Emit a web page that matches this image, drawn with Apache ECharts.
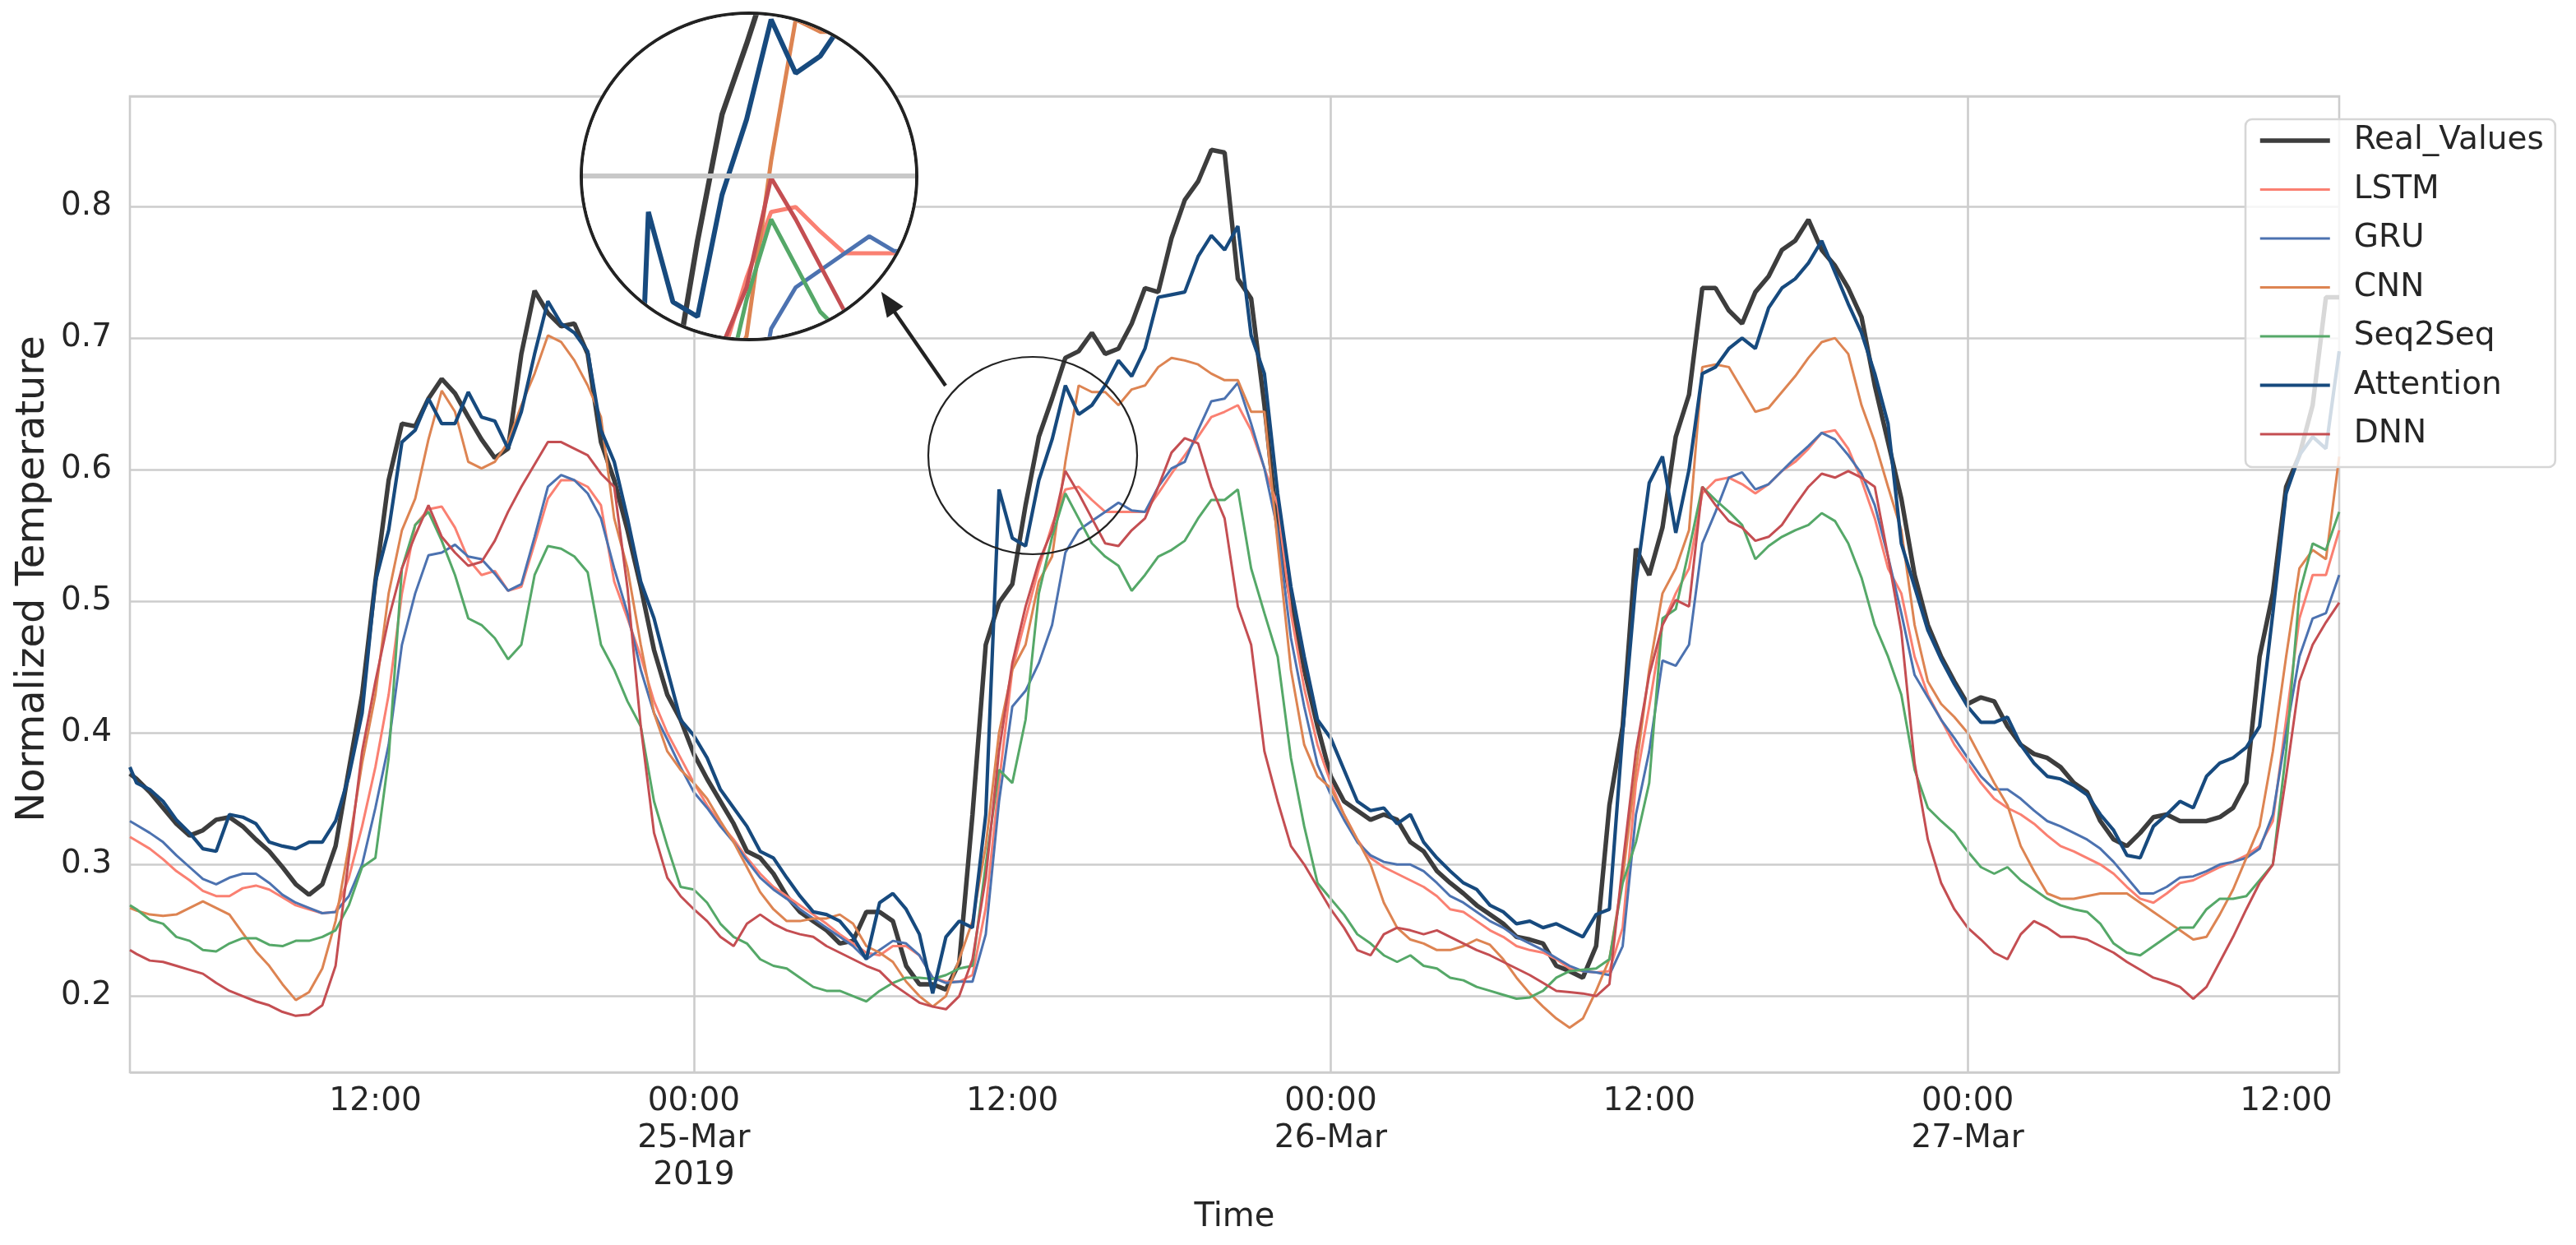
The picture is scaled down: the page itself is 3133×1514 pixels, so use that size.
<!DOCTYPE html>
<html>
<head>
<meta charset="utf-8">
<title>Normalized Temperature</title>
<script src="https://cdn.jsdelivr.net/npm/echarts@6/dist/echarts.min.js"></script>
<style>
html, body { margin: 0; padding: 0; background: #fff; }
#main { position: absolute; left: 0; top: 0; width: 3133px; height: 1514px; }
#zoom { position: absolute; left: 705px; top: 14px; width: 412px; height: 401px; box-sizing: border-box;
        border: 4px solid #222; border-radius: 50%; overflow: hidden; background: #fff; }
</style>
</head>
<body>
<div id="main"></div>
<div id="zoom"></div>
<script>
// hours relative to 25-Mar-2019 00:00, one reading every half hour
var hours = [-21.25];
for (var i = 0; i < 167; i++) { hours.push(-21 + i * 0.5); }

var tickHours = [-12, 0, 12, 24, 36, 48, 60];
var tickLabels = ['12:00', '00:00\n25-Mar\n2019', '12:00', '00:00\n26-Mar', '12:00', '00:00\n27-Mar', '12:00'];
var dayLines = [0, 24, 48];

var realValues = [0.369,
	0.365, 0.355, 0.343, 0.331, 0.322, 0.326, 0.334, 0.336, 0.329, 0.319, 0.310, 0.298, 0.285, 0.277, 0.285, 0.314, 0.372, 0.429, 0.515, 0.592, 0.635, 0.633, 0.654, 0.669, 0.658, 0.640, 0.623, 0.609, 0.616, 0.688, 0.736, 0.719, 0.709,
	0.711, 0.688, 0.621, 0.592, 0.554, 0.511, 0.463, 0.429, 0.410, 0.384, 0.365, 0.348, 0.331, 0.310, 0.305, 0.293, 0.276, 0.264, 0.257, 0.250, 0.240, 0.242, 0.264, 0.264, 0.257, 0.223, 0.209, 0.209, 0.205, 0.225, 0.338, 0.467, 0.499, 0.513,
	0.573, 0.625, 0.654, 0.685, 0.690, 0.704, 0.688, 0.692, 0.711, 0.738, 0.735, 0.776, 0.805, 0.819, 0.843, 0.841, 0.745, 0.730, 0.649, 0.554, 0.501, 0.448, 0.405, 0.367, 0.348, 0.341, 0.334, 0.338, 0.334, 0.317, 0.310, 0.295, 0.286,
	0.278, 0.269, 0.262, 0.255, 0.245, 0.243, 0.240, 0.223, 0.219, 0.214, 0.238, 0.345, 0.405, 0.540, 0.520, 0.556, 0.625, 0.657, 0.738, 0.738, 0.721, 0.711, 0.735, 0.747, 0.767, 0.774, 0.790, 0.767, 0.755, 0.738, 0.716, 0.664, 0.621,
	0.578, 0.520, 0.482, 0.458, 0.439, 0.422, 0.427, 0.424, 0.405, 0.391, 0.384, 0.381, 0.374, 0.362, 0.355, 0.333, 0.319, 0.314, 0.324, 0.336, 0.338, 0.333, 0.333, 0.333, 0.336, 0.343, 0.362, 0.458, 0.506, 0.587, 0.611, 0.649, 0.731, 0.731
];
var lstmValues = [0.321,
	0.318, 0.312, 0.304, 0.295, 0.288, 0.280, 0.276, 0.276, 0.282, 0.284, 0.281, 0.275, 0.269, 0.266, 0.263, 0.264, 0.290, 0.329, 0.374, 0.429, 0.506, 0.558, 0.570, 0.572, 0.556, 0.532, 0.520, 0.523, 0.508, 0.511, 0.544, 0.578, 0.592,
	0.592, 0.587, 0.573, 0.515, 0.487, 0.458, 0.424, 0.400, 0.381, 0.362, 0.345, 0.331, 0.319, 0.305, 0.293, 0.283, 0.276, 0.269, 0.262, 0.255, 0.247, 0.240, 0.233, 0.231, 0.238, 0.238, 0.231, 0.214, 0.211, 0.211, 0.216, 0.267, 0.362, 0.448,
	0.487, 0.525, 0.558, 0.585, 0.587, 0.577, 0.568, 0.568, 0.568, 0.568, 0.582, 0.597, 0.611, 0.625, 0.640, 0.644, 0.649, 0.630, 0.601, 0.573, 0.491, 0.434, 0.391, 0.362, 0.338, 0.319, 0.305, 0.298, 0.293, 0.288, 0.283, 0.276, 0.266,
	0.264, 0.257, 0.250, 0.245, 0.238, 0.235, 0.233, 0.228, 0.221, 0.219, 0.218, 0.219, 0.252, 0.362, 0.420, 0.482, 0.506, 0.525, 0.582, 0.592, 0.594, 0.589, 0.582, 0.589, 0.599, 0.606, 0.616, 0.628, 0.630, 0.616, 0.592, 0.563, 0.525,
	0.506, 0.458, 0.429, 0.410, 0.391, 0.377, 0.362, 0.350, 0.343, 0.338, 0.331, 0.322, 0.314, 0.310, 0.305, 0.300, 0.293, 0.283, 0.274, 0.271, 0.278, 0.286, 0.288, 0.293, 0.298, 0.302, 0.307, 0.314, 0.333, 0.410, 0.487, 0.520, 0.520, 0.554
];
var gruValues = [0.333,
	0.330, 0.324, 0.317, 0.307, 0.298, 0.289, 0.285, 0.290, 0.293, 0.293, 0.286, 0.277, 0.271, 0.267, 0.263, 0.264, 0.276, 0.300, 0.343, 0.391, 0.467, 0.506, 0.535, 0.537, 0.543, 0.534, 0.532, 0.521, 0.508, 0.513, 0.549, 0.587, 0.596,
	0.592, 0.582, 0.563, 0.525, 0.491, 0.448, 0.415, 0.395, 0.374, 0.355, 0.343, 0.329, 0.317, 0.303, 0.290, 0.281, 0.274, 0.266, 0.259, 0.252, 0.245, 0.238, 0.228, 0.235, 0.242, 0.240, 0.231, 0.214, 0.210, 0.211, 0.211, 0.247, 0.348, 0.420,
	0.432, 0.453, 0.482, 0.537, 0.554, 0.561, 0.568, 0.575, 0.569, 0.568, 0.587, 0.601, 0.606, 0.630, 0.652, 0.654, 0.666, 0.635, 0.601, 0.554, 0.472, 0.420, 0.376, 0.353, 0.334, 0.317, 0.307, 0.302, 0.300, 0.300, 0.295, 0.286, 0.276,
	0.271, 0.264, 0.257, 0.252, 0.245, 0.240, 0.235, 0.229, 0.223, 0.219, 0.218, 0.216, 0.238, 0.338, 0.386, 0.455, 0.451, 0.467, 0.544, 0.568, 0.594, 0.598, 0.585, 0.589, 0.599, 0.609, 0.618, 0.628, 0.623, 0.611, 0.597, 0.573, 0.534,
	0.491, 0.444, 0.427, 0.410, 0.396, 0.381, 0.367, 0.357, 0.357, 0.350, 0.341, 0.333, 0.329, 0.324, 0.319, 0.312, 0.302, 0.290, 0.278, 0.278, 0.283, 0.290, 0.291, 0.295, 0.300, 0.302, 0.305, 0.312, 0.338, 0.400, 0.458, 0.487, 0.491, 0.520
];
var cnnValues = [0.267,
	0.265, 0.262, 0.261, 0.262, 0.267, 0.272, 0.267, 0.262, 0.248, 0.234, 0.223, 0.209, 0.197, 0.203, 0.221, 0.257, 0.314, 0.377, 0.429, 0.506, 0.554, 0.578, 0.623, 0.660, 0.644, 0.606, 0.601, 0.606, 0.621, 0.649, 0.673, 0.702, 0.697,
	0.683, 0.664, 0.640, 0.563, 0.525, 0.467, 0.415, 0.386, 0.372, 0.362, 0.350, 0.333, 0.317, 0.298, 0.279, 0.266, 0.257, 0.257, 0.259, 0.259, 0.262, 0.255, 0.238, 0.233, 0.226, 0.211, 0.200, 0.192, 0.200, 0.228, 0.257, 0.314, 0.400, 0.448,
	0.467, 0.515, 0.534, 0.606, 0.664, 0.659, 0.659, 0.649, 0.661, 0.664, 0.678, 0.685, 0.683, 0.680, 0.673, 0.668, 0.668, 0.644, 0.644, 0.544, 0.448, 0.391, 0.367, 0.358, 0.338, 0.319, 0.300, 0.271, 0.252, 0.243, 0.240, 0.235, 0.235,
	0.238, 0.243, 0.239, 0.228, 0.214, 0.202, 0.192, 0.183, 0.176, 0.183, 0.204, 0.228, 0.290, 0.372, 0.448, 0.506, 0.525, 0.554, 0.678, 0.680, 0.678, 0.661, 0.644, 0.647, 0.659, 0.671, 0.685, 0.697, 0.700, 0.688, 0.649, 0.621, 0.587,
	0.554, 0.482, 0.439, 0.422, 0.412, 0.400, 0.381, 0.362, 0.345, 0.314, 0.295, 0.278, 0.274, 0.274, 0.276, 0.278, 0.278, 0.278, 0.271, 0.264, 0.257, 0.250, 0.243, 0.245, 0.262, 0.281, 0.305, 0.329, 0.386, 0.458, 0.525, 0.539, 0.532, 0.610
];
var seq2seqValues = [0.269,
	0.266, 0.258, 0.255, 0.245, 0.242, 0.235, 0.234, 0.240, 0.244, 0.244, 0.239, 0.238, 0.242, 0.242, 0.245, 0.250, 0.269, 0.298, 0.305, 0.381, 0.525, 0.558, 0.568, 0.546, 0.520, 0.487, 0.482, 0.472, 0.456, 0.467, 0.520, 0.542, 0.540,
	0.534, 0.522, 0.467, 0.448, 0.424, 0.405, 0.348, 0.314, 0.283, 0.281, 0.271, 0.255, 0.245, 0.240, 0.228, 0.223, 0.221, 0.214, 0.207, 0.204, 0.204, 0.200, 0.196, 0.204, 0.210, 0.214, 0.214, 0.213, 0.216, 0.221, 0.223, 0.300, 0.372, 0.362,
	0.410, 0.506, 0.549, 0.582, 0.563, 0.544, 0.534, 0.527, 0.508, 0.520, 0.534, 0.539, 0.546, 0.563, 0.577, 0.577, 0.585, 0.525, 0.491, 0.458, 0.381, 0.329, 0.286, 0.274, 0.262, 0.247, 0.240, 0.231, 0.226, 0.231, 0.223, 0.221, 0.214,
	0.212, 0.207, 0.204, 0.201, 0.198, 0.199, 0.204, 0.214, 0.219, 0.220, 0.221, 0.228, 0.286, 0.317, 0.362, 0.487, 0.494, 0.539, 0.587, 0.577, 0.568, 0.558, 0.532, 0.542, 0.549, 0.554, 0.558, 0.567, 0.561, 0.544, 0.518, 0.482, 0.458,
	0.429, 0.372, 0.343, 0.333, 0.324, 0.310, 0.298, 0.293, 0.298, 0.288, 0.281, 0.274, 0.269, 0.266, 0.264, 0.255, 0.240, 0.233, 0.231, 0.238, 0.245, 0.252, 0.252, 0.266, 0.274, 0.274, 0.276, 0.288, 0.300, 0.386, 0.506, 0.544, 0.539, 0.568
];
var attentionValues = [0.374,
	0.362, 0.357, 0.348, 0.334, 0.324, 0.312, 0.310, 0.338, 0.336, 0.331, 0.317, 0.314, 0.312, 0.317, 0.317, 0.333, 0.367, 0.415, 0.515, 0.554, 0.621, 0.630, 0.654, 0.635, 0.635, 0.659, 0.640, 0.637, 0.616, 0.644, 0.688, 0.728, 0.711,
	0.704, 0.690, 0.630, 0.606, 0.563, 0.515, 0.487, 0.448, 0.410, 0.398, 0.381, 0.357, 0.343, 0.329, 0.310, 0.305, 0.290, 0.276, 0.264, 0.262, 0.257, 0.245, 0.228, 0.271, 0.278, 0.266, 0.247, 0.202, 0.245, 0.257, 0.252, 0.338, 0.585, 0.548,
	0.542, 0.592, 0.623, 0.664, 0.642, 0.649, 0.664, 0.683, 0.671, 0.692, 0.731, 0.733, 0.735, 0.762, 0.778, 0.767, 0.785, 0.702, 0.673, 0.582, 0.511, 0.458, 0.410, 0.396, 0.372, 0.348, 0.341, 0.343, 0.331, 0.338, 0.317, 0.305, 0.295,
	0.286, 0.281, 0.269, 0.264, 0.255, 0.257, 0.252, 0.255, 0.250, 0.245, 0.262, 0.266, 0.400, 0.515, 0.590, 0.610, 0.552, 0.600, 0.673, 0.678, 0.692, 0.700, 0.692, 0.723, 0.738, 0.745, 0.757, 0.774, 0.750, 0.726, 0.704, 0.673, 0.635,
	0.544, 0.511, 0.478, 0.456, 0.437, 0.420, 0.408, 0.408, 0.412, 0.391, 0.377, 0.367, 0.365, 0.360, 0.353, 0.338, 0.326, 0.307, 0.305, 0.329, 0.338, 0.348, 0.343, 0.367, 0.377, 0.381, 0.389, 0.405, 0.491, 0.582, 0.611, 0.625, 0.616, 0.690
];
var dnnValues = [0.235,
	0.232, 0.227, 0.226, 0.223, 0.220, 0.217, 0.210, 0.204, 0.200, 0.196, 0.193, 0.188, 0.185, 0.186, 0.193, 0.223, 0.305, 0.386, 0.439, 0.487, 0.525, 0.550, 0.573, 0.549, 0.537, 0.527, 0.530, 0.546, 0.568, 0.587, 0.604, 0.621, 0.621,
	0.616, 0.611, 0.597, 0.587, 0.510, 0.405, 0.324, 0.290, 0.276, 0.266, 0.257, 0.245, 0.238, 0.255, 0.262, 0.255, 0.250, 0.247, 0.245, 0.238, 0.233, 0.228, 0.223, 0.219, 0.209, 0.202, 0.195, 0.192, 0.190, 0.200, 0.228, 0.290, 0.386, 0.453,
	0.496, 0.530, 0.554, 0.599, 0.582, 0.563, 0.544, 0.542, 0.554, 0.563, 0.587, 0.613, 0.624, 0.620, 0.587, 0.563, 0.496, 0.467, 0.386, 0.348, 0.314, 0.300, 0.283, 0.266, 0.252, 0.235, 0.231, 0.247, 0.252, 0.250, 0.247, 0.250, 0.245,
	0.240, 0.235, 0.231, 0.226, 0.221, 0.216, 0.210, 0.204, 0.203, 0.202, 0.200, 0.209, 0.300, 0.386, 0.444, 0.482, 0.501, 0.496, 0.587, 0.573, 0.561, 0.556, 0.546, 0.549, 0.558, 0.573, 0.587, 0.597, 0.594, 0.599, 0.594, 0.587, 0.534,
	0.477, 0.377, 0.319, 0.286, 0.266, 0.252, 0.243, 0.233, 0.228, 0.247, 0.257, 0.252, 0.245, 0.245, 0.243, 0.238, 0.233, 0.226, 0.220, 0.214, 0.211, 0.207, 0.198, 0.207, 0.226, 0.245, 0.266, 0.286, 0.300, 0.367, 0.439, 0.467, 0.484, 0.499
];

var models = [
	{ name: 'Real_Values', values: realValues, color: '#3d3d3d', width: 5.5, zoomWidth: 6.5 },
	{ name: 'LSTM', values: lstmValues, color: '#fa8072', width: 3, zoomWidth: 5 },
	{ name: 'GRU', values: gruValues, color: '#4c72b0', width: 3, zoomWidth: 5 },
	{ name: 'CNN', values: cnnValues, color: '#dd8452', width: 3, zoomWidth: 5 },
	{ name: 'Seq2Seq', values: seq2seqValues, color: '#55a868', width: 3, zoomWidth: 5 },
	{ name: 'Attention', values: attentionValues, color: '#174a7e', width: 4.2, zoomWidth: 6 },
	{ name: 'DNN', values: dnnValues, color: '#c44e52', width: 3, zoomWidth: 5 }
];

var font = 'DejaVu Sans';
var textColor = '#262626';
var gridColor = '#cccccc';

function points(values) {
	return values.map(function (v, i) { return [hours[i], v]; });
}

function lineSeries(useZoomWidth) {
	return models.map(function (m) {
		return {
			name: m.name,
			type: 'line',
			data: points(m.values),
			symbol: 'none',
			showSymbol: false,
			smooth: false,
			color: m.color,
			lineStyle: { color: m.color, width: useZoomWidth ? m.zoomWidth : m.width },
			emphasis: { disabled: true },
			z: 3
		};
	});
}

var mainChart = echarts.init(document.getElementById('main'));
var mainSeries = lineSeries(false);
mainSeries.unshift({
	name: 'dayLines',
	type: 'line',
	data: [],
	silent: true,
	z: 1,
	markLine: {
		silent: true,
		symbol: 'none',
		label: { show: false },
		lineStyle: { color: gridColor, width: 2.6, type: 'solid' },
		data: dayLines.map(function (h) { return { xAxis: h }; })
	}
});

var mainOption = {
	animation: false,
	backgroundColor: '#ffffff',
	grid: {
		left: 158, top: 117, right: 288, bottom: 210,
		show: true, borderColor: gridColor, borderWidth: 2.6, backgroundColor: 'transparent'
	},
	legend: {
		data: models.map(function (m) {
			return { name: m.name, lineStyle: { width: m.width, color: m.color } };
		}),
		orient: 'vertical',
		left: 2731, top: 145,
		padding: [6, 14, 20, 15],
		itemWidth: 85, itemHeight: 20, itemGap: 19.5,
		itemStyle: { opacity: 0 },
		backgroundColor: 'rgba(255,255,255,0.8)',
		borderColor: '#d6d6d6', borderWidth: 2.6, borderRadius: 8,
		textStyle: { fontFamily: font, fontSize: 39, lineHeight: 40, color: textColor, padding: [0, 0, 0, 24] }
	},
	xAxis: {
		type: 'value',
		min: hours[0], max: hours[hours.length - 1],
		name: 'Time', nameLocation: 'middle', nameGap: 151,
		nameTextStyle: { fontFamily: font, fontSize: 40, lineHeight: 48, color: textColor },
		axisLine: { show: false }, axisTick: { show: false }, splitLine: { show: false },
		axisLabel: {
			customValues: tickHours,
			formatter: function (v) { return tickLabels[tickHours.indexOf(v)] || ''; },
			fontFamily: font, fontSize: 39, lineHeight: 45, color: textColor, margin: 13
		}
	},
	yAxis: {
		type: 'value',
		min: 0.1421, max: 0.8838, splitNumber: 7,
		axisLine: { show: false }, axisTick: { show: false },
		splitLine: { lineStyle: { color: gridColor, width: 2.6 } },
		axisLabel: {
			showMinLabel: false, showMaxLabel: false,
			formatter: function (v) { return v.toFixed(1); },
			fontFamily: font, fontSize: 39, color: textColor, margin: 22
		}
	},
	graphic: [
		{ type: 'text', x: 41, y: 704, rotation: Math.PI / 2, silent: true,
		  style: { text: 'Normalized Temperature', fontFamily: font, fontSize: 48, fill: textColor,
		           align: 'center', verticalAlign: 'middle', textAlign: 'center', textVerticalAlign: 'middle' } },
		{ type: 'ellipse', shape: { cx: 1256, cy: 554, rx: 127, ry: 120 },
		  style: { fill: null, stroke: '#222222', lineWidth: 2.2 }, z: 20 },
		{ type: 'line', shape: { x1: 1150, y1: 469, x2: 1087, y2: 378 },
		  style: { stroke: '#222222', lineWidth: 4.4 }, z: 20 },
		{ type: 'polygon', shape: { points: [[1071.7, 354.8], [1098.6, 372.8], [1078.8, 386.4]] },
		  style: { fill: '#222222' }, z: 20 }
	],
	series: mainSeries
};
mainChart.setOption(mainOption);

// magnified inset: same data, shown around (13.55 h, 0.5996) at 1.85x
var zoomCenter = [13.55, 0.5996];
var zoomFactor = 1.85;
var zoomBox = document.getElementById('zoom');
var zoomChart = echarts.init(zoomBox);
var p0 = mainChart.convertToPixel({ gridIndex: 0 }, [0, 0.5]);
var p1 = mainChart.convertToPixel({ gridIndex: 0 }, [1, 0.6]);
var pxPerHour = (p1[0] - p0[0]) * zoomFactor;
var pxPerUnit = (p0[1] - p1[1]) / 0.1 * zoomFactor;
var halfW = zoomBox.clientWidth / 2 / pxPerHour;
var halfH = zoomBox.clientHeight / 2 / pxPerUnit;

var zoomSeries = lineSeries(true);
zoomSeries.unshift({
	name: 'zoomGrid',
	type: 'line',
	data: [],
	silent: true,
	z: 1,
	markLine: {
		silent: true,
		symbol: 'none',
		label: { show: false },
		lineStyle: { color: '#c8c8c8', width: 6, type: 'solid' },
		data: [{ yAxis: 0.6 }]
	}
});
zoomChart.setOption({
	animation: false,
	backgroundColor: '#ffffff',
	grid: { left: 0, right: 0, top: 0, bottom: 0 },
	xAxis: { type: 'value', min: zoomCenter[0] - halfW, max: zoomCenter[0] + halfW, show: false },
	yAxis: { type: 'value', min: zoomCenter[1] - halfH, max: zoomCenter[1] + halfH, show: false },
	series: zoomSeries
});

window.addEventListener('resize', function () { mainChart.resize(); zoomChart.resize(); });
</script>
</body>
</html>
